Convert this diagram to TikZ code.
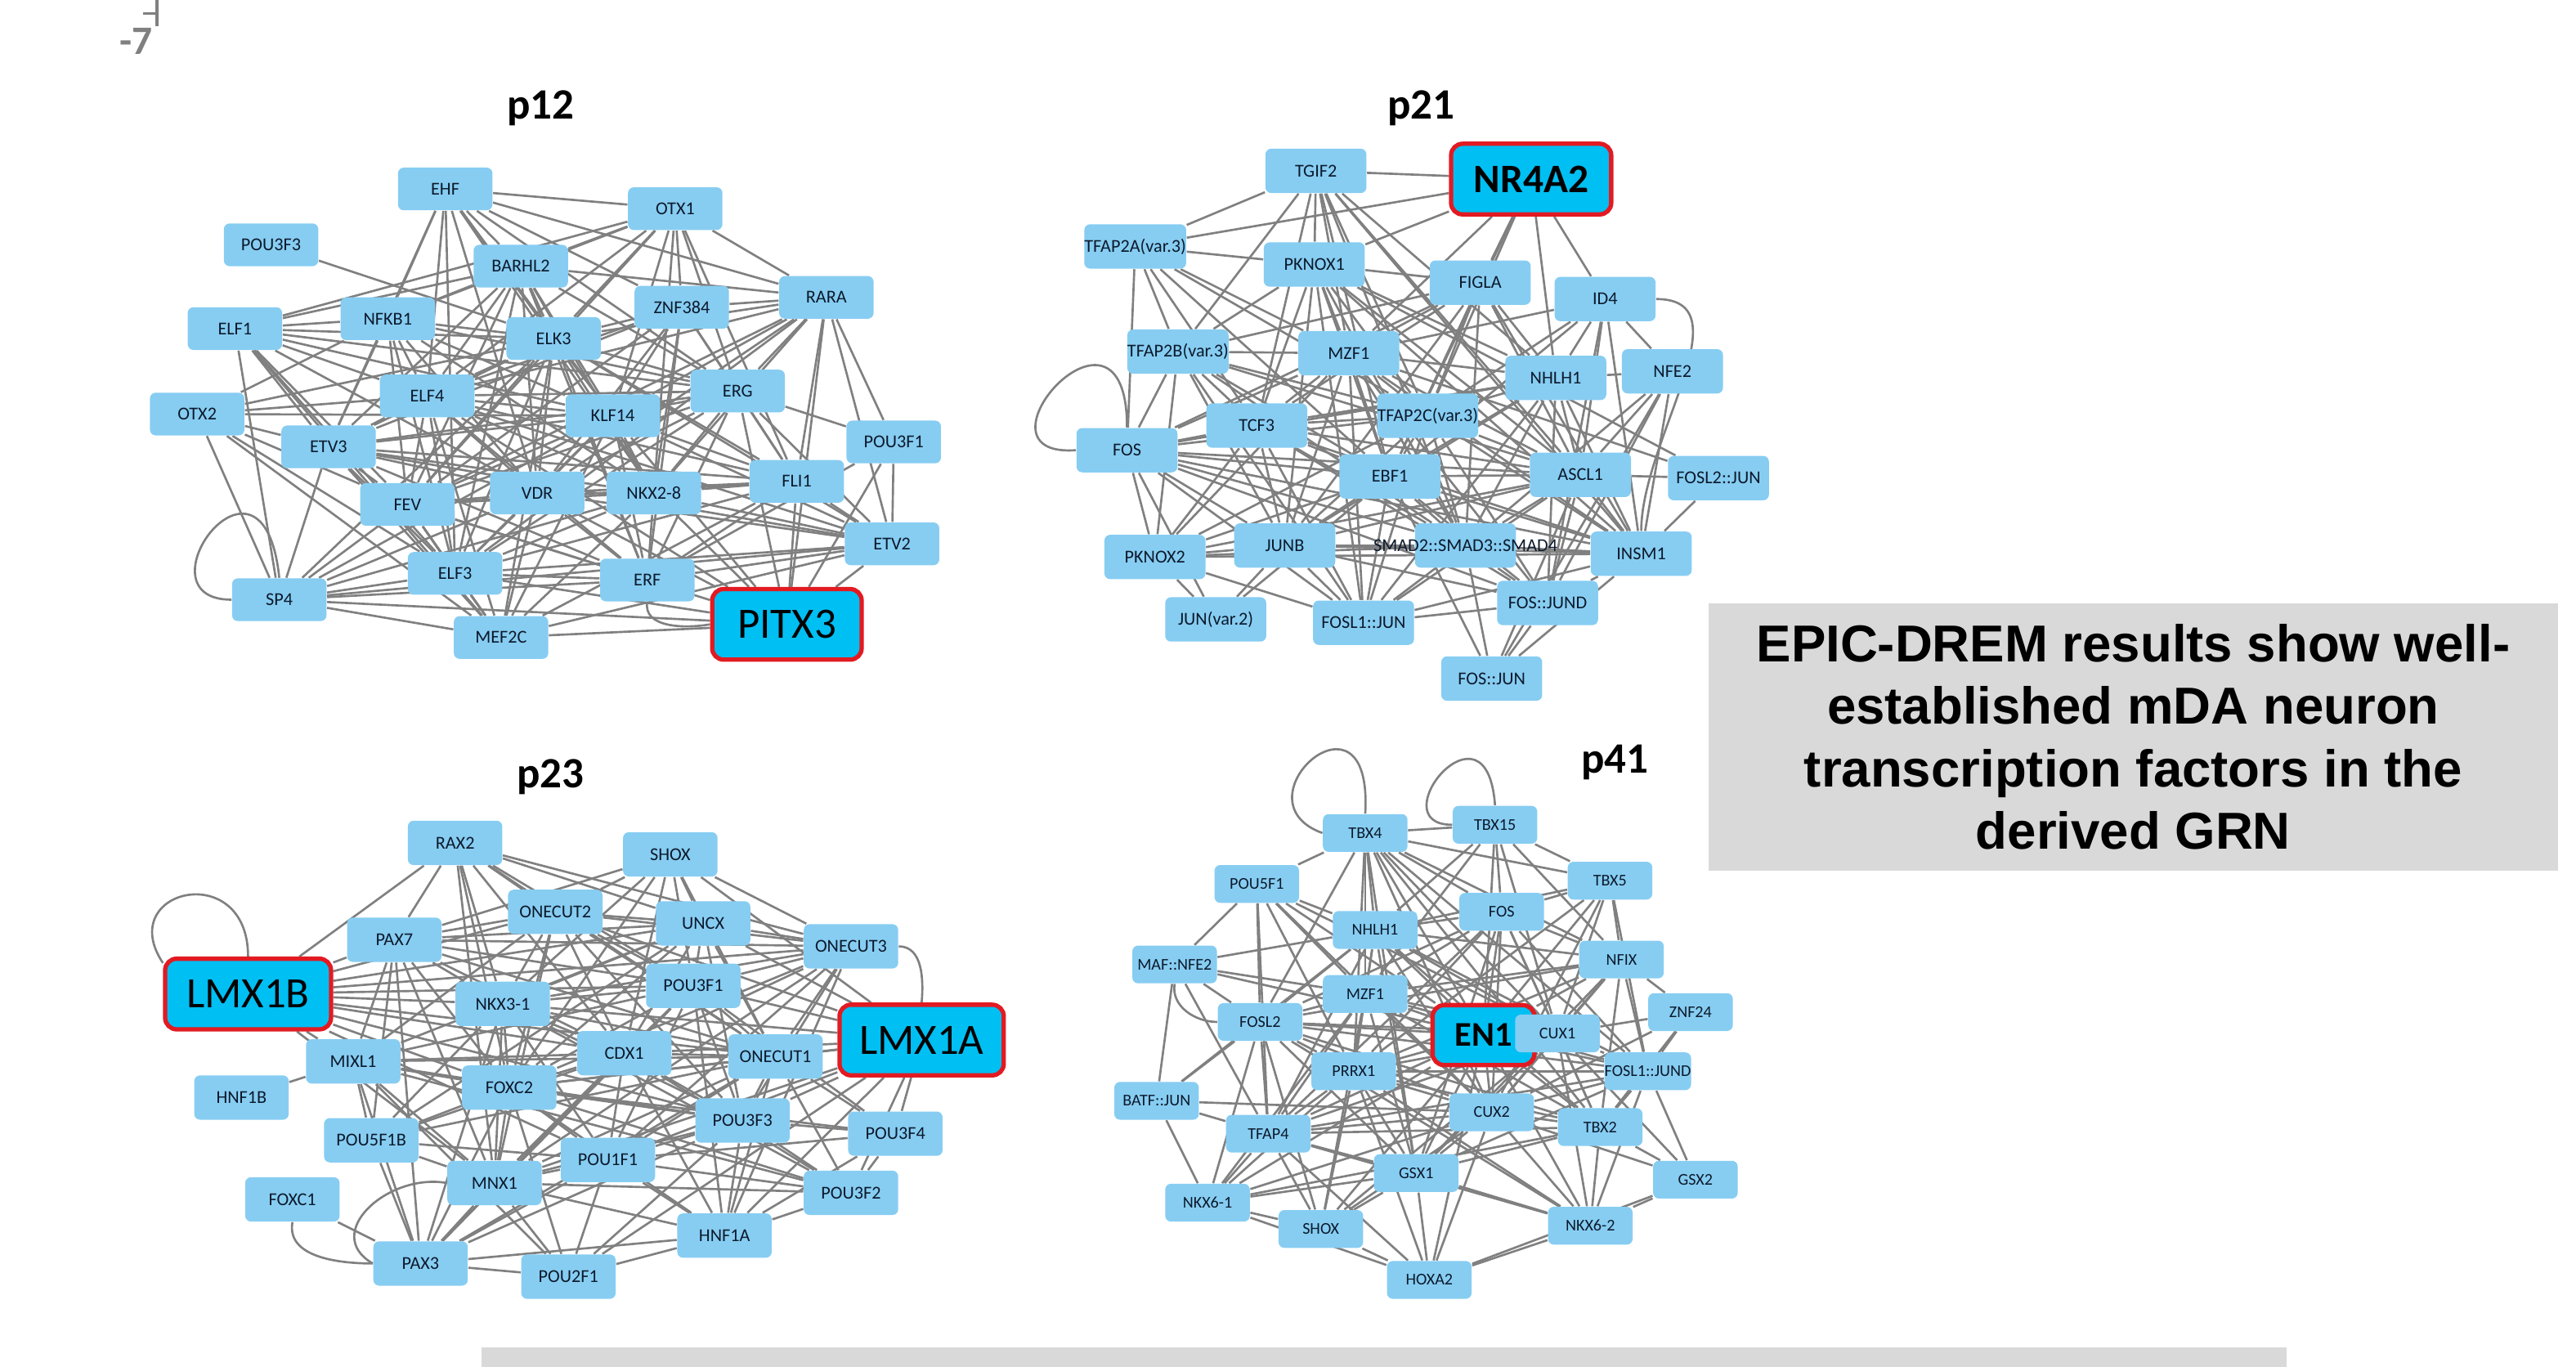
\documentclass[tikz,border=0pt]{standalone}
\usepackage{fontspec}
\newfontfamily\tffont{Carlito}
\newfontfamily\boxfont{Liberation Sans}
\definecolor{tfblue}{RGB}{135,205,242}
\definecolor{keyblue}{RGB}{0,191,243}
\definecolor{keyred}{RGB}{226,26,34}
\definecolor{edgegray}{RGB}{128,128,128}
\definecolor{boxgray}{RGB}{217,217,217}
\definecolor{tftext}{RGB}{12,26,44}
\definecolor{markgray}{RGB}{128,128,128}
\pgfdeclarelayer{bg}
\pgfsetlayers{bg,main}
\tikzset{
  tf/.style={fill=tfblue, rounded corners=2pt, inner sep=0pt, minimum width=1.15cm,
    minimum height=0.52cm, text=tftext, font=\tffont\fontsize{6.3}{7.5}\selectfont},
  tfb/.style={tf, minimum width=1.23cm, minimum height=0.54cm},
  tfc/.style={tf, minimum height=0.54cm},
  tfd/.style={tf, minimum width=1.03cm, minimum height=0.46cm, font=\tffont\fontsize{5.7}{7}\selectfont},
  keytf/.style={fill=keyblue, draw=keyred, line width=1.5pt, rounded corners=4pt, inner sep=0pt,
    minimum width=1.82cm, minimum height=0.86cm, text=black, font=\tffont\fontsize{15}{18}\selectfont},
  edge/.style={draw=edgegray, line width=0.75pt},
  ptitle/.style={font=\tffont\bfseries\fontsize{15}{18}\selectfont},
}
\begin{document}
\begin{tikzpicture}[x=0.02cm, y=-0.02cm]
\useasboundingbox (0,0) rectangle (1568,832);

% page mark
\node[font=\tffont\bfseries\fontsize{14}{16}\selectfont, text=markgray] (mark) at (83,25) {-7};
\draw[markgray, line width=0.9pt] (95.5,0) -- (95.5,16) (87,8.3) -- (95.5,8.3);

% panel p12
\node[ptitle] (t12) at (329,66) {p12};
\node[tf] (a1) at (271,115) {EHF};
\node[tf] (a2) at (411,127) {OTX1};
\node[tf] (a3) at (165,149) {POU3F3};
\node[tf] (a4) at (317,162) {BARHL2};
\node[tf] (a5) at (415,187) {ZNF384};
\node[tf] (a6) at (503,181) {RARA};
\node[tf] (a7) at (143,200) {ELF1};
\node[tf] (a8) at (236,194) {NFKB1};
\node[tf] (a9) at (337,206) {ELK3};
\node[tf] (a10) at (260,241) {ELF4};
\node[tf] (a11) at (449,238) {ERG};
\node[tf] (a12) at (120,252) {OTX2};
\node[tf] (a13) at (200,272) {ETV3};
\node[tf] (a14) at (373,253) {KLF14};
\node[tf] (a15) at (544,269) {POU3F1};
\node[tf] (a16) at (485,293) {FLI1};
\node[tf] (a17) at (248,307) {FEV};
\node[tf] (a18) at (327,300) {VDR};
\node[tf] (a19) at (398,300) {NKX2-8};
\node[tf] (a20) at (543,331) {ETV2};
\node[tf] (a21) at (170,365) {SP4};
\node[tf] (a22) at (277,349) {ELF3};
\node[tf] (a23) at (394,353) {ERF};
\node[tf] (a24) at (305,388) {MEF2C};
\node[keytf] (a25) at (479,380) {PITX3};

% panel p21
\node[ptitle] (t21) at (865,66) {p21};
\node[tfb] (b1) at (801,104) {TGIF2};
\node[keytf, minimum width=1.95cm, font=\tffont\bfseries\fontsize{14}{17}\selectfont] (b2) at (932,109) {NR4A2};
\node[tfb] (b3) at (691,150) {TFAP2A(var.3)};
\node[tfb] (b4) at (800,161) {PKNOX1};
\node[tfb] (b5) at (901,172) {FIGLA};
\node[tfb] (b6) at (977,182) {ID4};
\node[tfb] (b7) at (717,214) {TFAP2B(var.3)};
\node[tfb] (b8) at (821,215) {MZF1};
\node[tfb] (b9) at (947,230) {NHLH1};
\node[tfb] (b10) at (1018,226) {NFE2};
\node[tfb] (b11) at (765,259) {TCF3};
\node[tfb] (b12) at (869,253) {TFAP2C(var.3)};
\node[tfb] (b13) at (686,274) {FOS};
\node[tfb] (b14) at (846,290) {EBF1};
\node[tfb] (b15) at (962,289) {ASCL1};
\node[tfb] (b16) at (1046,291) {FOSL2::JUN};
\node[tfb] (b17) at (703,339) {PKNOX2};
\node[tfb] (b18) at (782,332) {JUNB};
\node[tfb] (b19) at (892,332) {\makebox[0pt]{SMAD2::SMAD3::SMAD4}};
\node[tfb] (b20) at (999,337) {INSM1};
\node[tfb] (b21) at (740,377) {JUN(var.2)};
\node[tfb] (b22) at (830,379) {FOSL1::JUN};
\node[tfb] (b23) at (942,367) {FOS::JUND};
\node[tfb] (b24) at (908,413) {FOS::JUN};

% panel p23
\node[ptitle] (t23) at (335,473) {p23};
\node[tfc] (c1) at (277,513) {RAX2};
\node[tfc] (c2) at (408,520) {SHOX};
\node[tfc] (c3) at (338,555) {ONECUT2};
\node[tfc] (c4) at (240,572) {PAX7};
\node[tfc] (c5) at (428,562) {UNCX};
\node[tfc] (c6) at (518,576) {ONECUT3};
\node[keytf, minimum width=2.02cm] (c7) at (151,605) {LMX1B};
\node[tfc] (c8) at (306,611) {NKX3-1};
\node[tfc] (c9) at (422,600) {POU3F1};
\node[keytf, minimum width=2.0cm] (c10) at (561,633) {LMX1A};
\node[tfc] (c11) at (380,641) {CDX1};
\node[tfc] (c12) at (472,643) {ONECUT1};
\node[tfc] (c13) at (215,646) {MIXL1};
\node[tfc] (c14) at (310,662) {FOXC2};
\node[tfc] (c15) at (147,668) {HNF1B};
\node[tfc] (c16) at (452,682) {POU3F3};
\node[tfc] (c17) at (226,694) {POU5F1B};
\node[tfc] (c18) at (545,690) {POU3F4};
\node[tfc] (c19) at (301,720) {MNX1};
\node[tfc] (c20) at (370,706) {POU1F1};
\node[tfc] (c21) at (518,726) {POU3F2};
\node[tfc] (c22) at (178,730) {FOXC1};
\node[tfc] (c23) at (441,752) {HNF1A};
\node[tfc] (c24) at (256,769) {PAX3};
\node[tfc] (c25) at (346,777) {POU2F1};

% panel p41
\node[ptitle] (t41) at (983,464) {p41};
\node[tfd] (d1) at (831,507) {TBX4};
\node[tfd] (d2) at (910,502) {TBX15};
\node[tfd] (d3) at (980,536) {TBX5};
\node[tfd] (d4) at (765,538) {POU5F1};
\node[tfd] (d5) at (837,566) {NHLH1};
\node[tfd] (d6) at (914,555) {FOS};
\node[tfd] (d7) at (715,587) {MAF::NFE2};
\node[tfd] (d8) at (987,584) {NFIX};
\node[tfd] (d9) at (831,605) {MZF1};
\node[tfd] (d10) at (767,622) {FOSL2};
\node[keytf, minimum width=1.24cm, minimum height=0.73cm, font=\tffont\bfseries\fontsize{12}{14}\selectfont] (d11) at (903,630) {EN1};
\node[tfd] (d12) at (948,629) {CUX1};
\node[tfd] (d13) at (1029,616) {ZNF24};
\node[tfd] (d14) at (824,652) {PRRX1};
\node[tfd] (d15) at (1003,652) {FOSL1::JUND};
\node[tfd] (d16) at (704,670) {BATF::JUN};
\node[tfd] (d17) at (772,690) {TFAP4};
\node[tfd] (d18) at (908,677) {CUX2};
\node[tfd] (d19) at (974,686) {TBX2};
\node[tfd] (d20) at (862,714) {GSX1};
\node[tfd] (d21) at (1032,718) {GSX2};
\node[tfd] (d22) at (735,732) {NKX6-1};
\node[tfd] (d23) at (804,748) {SHOX};
\node[tfd] (d24) at (968,746) {NKX6-2};
\node[tfd] (d25) at (870,779) {HOXA2};

% message box and footer bar
\node[fill=boxgray, minimum width=10.34cm, minimum height=3.26cm, inner sep=0pt, align=center,
  font=\boxfont\bfseries\fontsize{18}{21.6}\selectfont] (msg) at (1298.5,448.5)
  {EPIC-DREM results show well-\\established mDA neuron\\transcription factors in the\\derived GRN};
\fill[boxgray] (293,820) rectangle (1392,832);

\begin{pgfonlayer}{bg}
% p12 edges
\foreach \s/\tl in {1/{2,4,5,6,8,9,10,11,13,14,18,19,22}, 2/{4,5,6,7,8,9,10,11,14,16,17,19},
  3/{9}, 4/{6,7,8,9,10,11,13,14,17,18,19,22,23}, 5/{6,9,10,11,13,14,16,17,18,19,23},
  6/{9,10,11,14,15,16,17,18,19,20,22,25}, 7/{8,9,10,11,13,14,17,18,21,22,24},
  8/{9,10,11,12,13,14,17,18,19,22}, 9/{10,11,12,13,14,16,17,18,19,20,21,22,23,24},
  10/{11,12,13,14,16,17,18,19,20,22,23,24,25}, 11/{13,14,15,16,17,18,19,20,22,23,25},
  12/{13,14,17,21,22,24}, 13/{14,16,17,18,19,20,21,22,23,24}, 14/{16,17,18,19,20,21,22,23,24,25},
  15/{20,23,25}, 16/{17,18,19,20,22,23,24,25}, 17/{18,19,21,22,23,24,25}, 18/{19,20,21,22,23,24,25},
  19/{20,21,22,23,24,25}, 20/{21,22,23,24,25}, 21/{22,23,24,25}, 22/{23,24,25}, 24/{25}}
  \foreach \t in \tl
    \draw[edge] (a\s) -- (a\t);
\draw[edge] (a21.west) .. controls +(-60,0) and +(-10,-95) .. (a21.north);
\draw[edge] (a23.south) to[out=-100, in=190] (a25.west);
% p21 edges
\foreach \s/\tl in {1/{2,3,4,7,8,9,11,12,14,15,19,20}, 2/{3,4,5,6,8,9,12,14},
  3/{4,7,8,11,12,13,14}, 4/{5,7,8,9,11,12,14,15,16,18,19,20,22},
  5/{7,8,9,11,12,13,14,15,18,19,20}, 6/{8,9,10,12,14,15,20,23},
  7/{8,11,12,13,14,15,17,18,19,22}, 8/{9,11,12,13,14,15,17,18,19,20,22,23},
  9/{10,11,12,13,14,15,18,19,20,22,23}, 10/{15,19,20,23,24},
  11/{12,13,14,15,17,18,19,20,22,23}, 12/{13,14,15,17,18,19,20,22,23},
  13/{14,15,17,18,19,20,21,22,23}, 14/{15,17,18,19,20,21,22,23,24},
  15/{16,17,18,19,20,22,23,24}, 16/{8,20}, 17/{18,19,20,21,22}, 18/{19,20,21,22,23},
  19/{20,22,23,24}, 20/{22,23,24}, 22/{23}, 23/{24}}
  \foreach \t in \tl
    \draw[edge] (b\s) -- (b\t);
\draw[edge] (b13.west) .. controls +(-70,5) and +(0,-95) .. (b13.north);
\draw[edge] (b6.east) to[out=0, in=90] (b20.north);
% p23 edges
\foreach \s/\tl in {1/{3,4,5,6,7,8,9,11,12,14,19}, 2/{3,4,5,6,8,9,10,11,12,14},
  3/{4,5,6,7,8,9,10,11,12,13,14,16,19}, 4/{5,6,7,8,9,11,12,13,14,17,19,24},
  5/{6,7,8,9,10,11,12,13,14,16,17}, 6/{7,8,9,11,12,14,16,19,20,23},
  7/{8,9,11,12,13,14,16,19,20}, 8/{9,10,11,12,14,16,17,19,20,21,24},
  9/{10,11,12,13,14,16,18,19,20,23,24}, 10/{11,12,14,16,18,19,20,21,23,25},
  11/{12,13,14,16,17,19,20,21,23,24}, 12/{13,14,16,17,18,19,20,21,23,24},
  13/{14,15,16,17,19,21,24,25}, 14/{16,17,18,19,20,21,23,24,25}, 16/{18,19,20,21,23,24,25},
  17/{19,20,24}, 18/{20,21,23}, 19/{20,21,23,24,25}, 20/{21,23,24,25}, 21/{23},
  22/{24}, 23/{24,25}, 24/{25}}
  \foreach \t in \tl
    \draw[edge] (c\s) -- (c\t);
\draw[edge] (c7.160) .. controls +(-30,-45) and +(0,-60) .. (c7.north);
\draw[edge] (c6.east) to[out=0, in=85] (c10.north);
\draw[edge] (c22.south) to[out=-100, in=180] (c24.west);
\draw[edge] (c19.west) to[out=170, in=150, looseness=1.4] (c24.west);
% p41 edges
\foreach \s/\tl in {1/{2,3,4,5,6,8,9,10,11,12,14,15,18,19,20}, 2/{3,5,6,8,9,11,12},
  3/{5,6,8,11,12,14,15,18}, 4/{5,7,9,10,11,12,14,17,18}, 5/{6,8,9,10,11,12,14,15,16,17,18,19,20},
  6/{8,9,10,11,12,14,15,17,18,19,20}, 7/{5,9,10,11,16,17}, 8/{9,10,11,12,13,14,15,18,19,20},
  9/{10,11,12,14,15,17,18,19,20,22,23}, 10/{11,12,14,15,16,17,18,19,20,22,23,24},
  11/{12,14,15,17,18,19,20,22,23,24,25}, 12/{13,14,15,17,18,19,20,21,23,24},
  13/{15,18,19}, 14/{15,17,18,19,20,22,23,24,25}, 15/{17,18,19,20,21,24}, 16/{17,18,22},
  17/{18,19,20,22,23,24,25}, 18/{19,20,21,22,23,24,25}, 19/{20,21,22,24}, 20/{22,23,24,25},
  21/{24,25}, 22/{23,25}, 23/{25}, 24/{25}}
  \foreach \t in \tl
    \draw[edge] (d\s) -- (d\t);
\draw[edge] (d1.west) .. controls +(-55,-20) and +(5,-85) .. (d1.north);
\draw[edge] (d2.west) .. controls +(-45,0) and +(-5,-70) .. (d2.north);
\draw[edge] (d7.south) to[out=-100, in=180] (d10.west);
\end{pgfonlayer}
\end{tikzpicture}
\end{document}
